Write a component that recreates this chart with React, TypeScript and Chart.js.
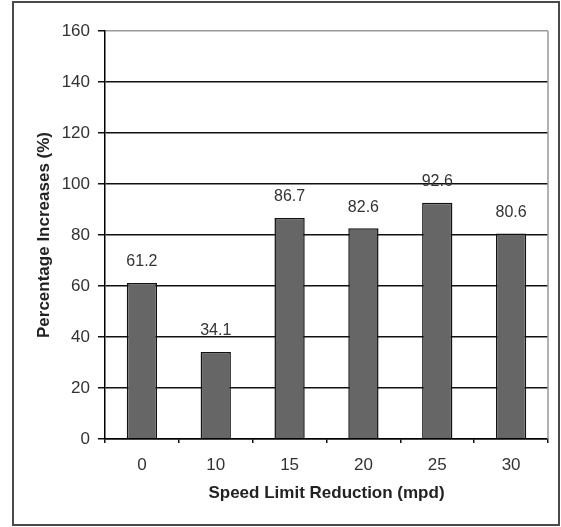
import React, { useEffect, useRef } from "react";
import { Chart, registerables } from "chart.js";

Chart.register(...registerables);

const categories = ["0", "10", "15", "20", "25", "30"];
const increases = [61.2, 34.1, 86.7, 82.6, 92.6, 80.6];
const valueLabels = ["61.2", "34.1", "86.7", "82.6", "92.6", "80.6"];
const yMin = 0;
const yMax = 160;
const yStep = 20;

const FONT = "'Liberation Sans', Arial, sans-serif";

export default function App() {
  const ref = useRef<HTMLCanvasElement | null>(null);

  useEffect(() => {
    const canvas = ref.current;
    if (!canvas) return;

    const framePlugin = {
      id: "frame",
      beforeDraw(chart: any) {
        const ctx = chart.ctx;
        ctx.save();
        ctx.fillStyle = "#ffffff";
        ctx.fillRect(0, 0, chart.width, chart.height);
        ctx.strokeStyle = "#4a4a4a";
        ctx.lineWidth = 2;
        ctx.strokeRect(13, 2, 546, 523);
        ctx.restore();
      },
      afterDraw(chart: any) {
        const { ctx, chartArea } = chart;
        ctx.save();
        ctx.strokeStyle = "#9a9a9a";
        ctx.lineWidth = 1.5;
        ctx.beginPath();
        ctx.moveTo(chartArea.right, chartArea.top);
        ctx.lineTo(chartArea.right, chartArea.bottom);
        ctx.stroke();
        ctx.restore();
      },
    };

    const labelPlugin = {
      id: "valueLabels",
      afterDatasetsDraw(chart: any) {
        const ctx = chart.ctx;
        const meta = chart.getDatasetMeta(0);
        ctx.save();
        ctx.font = `16px ${FONT}`;
        ctx.fillStyle = "#333333";
        ctx.textAlign = "center";
        ctx.textBaseline = "middle";
        meta.data.forEach((bar: any, i: number) => {
          ctx.fillText(valueLabels[i], bar.x, bar.y - 21);
        });
        ctx.restore();
      },
    };

    const chart = new Chart(canvas, {
      type: "bar",
      data: {
        labels: categories,
        datasets: [
          {
            data: increases,
            backgroundColor: "#666666",
            borderColor: "#111111",
            borderWidth: 1.5,
            barPercentage: 0.41,
            categoryPercentage: 1,
          },
        ],
      },
      options: {
        responsive: false,
        animation: false,
        devicePixelRatio: 1,
        layout: { padding: { left: 14, right: 13, top: 31, bottom: 10 } },
        plugins: {
          legend: { display: false },
          tooltip: { enabled: false },
          title: { display: false },
        },
        scales: {
          x: {
            afterFit(scale: any) {
              scale.height = 78;
            },
            grid: {
              display: true,
              drawOnChartArea: false,
              drawTicks: true,
              tickLength: 4,
              color: "#111111",
              lineWidth: 1.5,
              offset: true,
            },
            border: { display: true, color: "#000000", width: 1.5 },
            ticks: {
              color: "#333333",
              font: { family: FONT, size: 17 },
              padding: 12,
              maxRotation: 0,
            },
            title: {
              display: true,
              text: "Speed Limit Reduction (mpd)",
              color: "#222222",
              font: { family: FONT, size: 17, weight: "bold" },
              padding: { top: 0, bottom: 13 },
            },
          },
          y: {
            min: yMin,
            max: yMax,
            afterFit(scale: any) {
              scale.width = 91;
            },
            grid: {
              color: (c: any) =>
                c.tick && c.tick.value === yMax ? "#9a9a9a" : "#111111",
              tickColor: "#111111",
              lineWidth: 1.5,
              drawTicks: true,
              tickLength: 7,
            },
            border: { display: true, color: "#000000", width: 1.5 },
            ticks: {
              stepSize: yStep,
              color: "#333333",
              font: { family: FONT, size: 17 },
              padding: 8,
            },
            title: {
              display: true,
              text: "Percentage Increases (%)",
              color: "#222222",
              font: { family: FONT, size: 17, weight: "bold" },
              padding: { top: 20, bottom: 0 },
            },
          },
        },
      },
      plugins: [framePlugin, labelPlugin],
    });

    return () => chart.destroy();
  }, []);

  return (
    <div style={{ position: "fixed", left: 0, top: 0, width: 561, height: 527, background: "#fff" }}>
      <canvas ref={ref} width={561} height={527} style={{ display: "block", width: 561, height: 527 }} />
    </div>
  );
}
